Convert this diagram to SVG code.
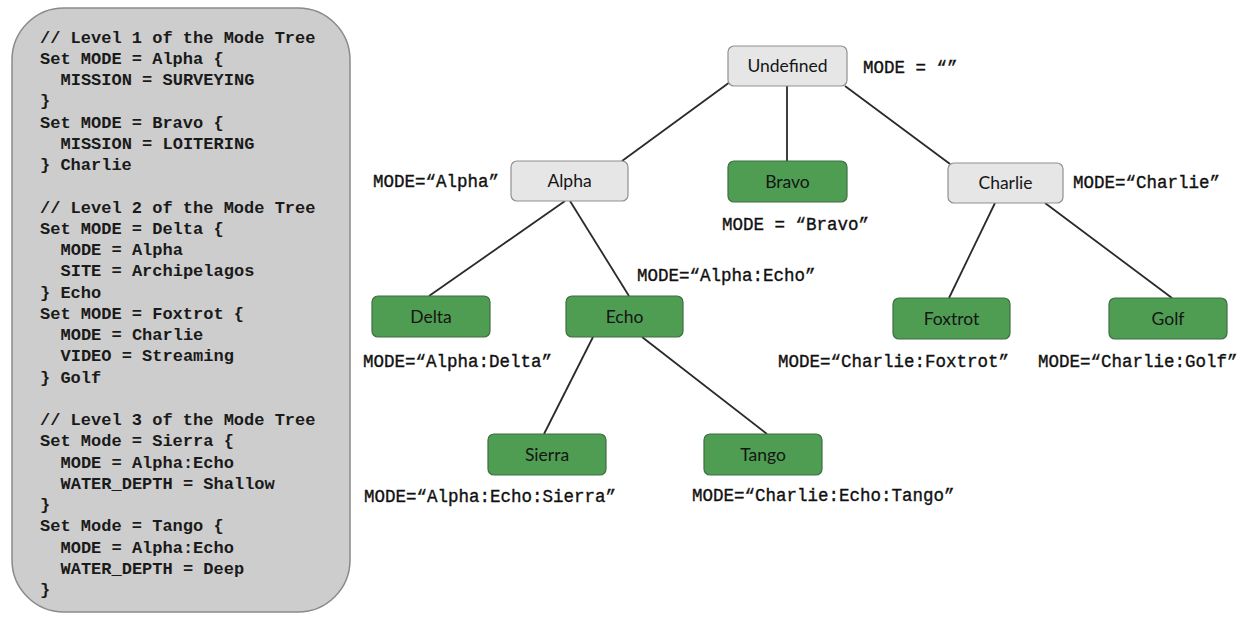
<svg xmlns="http://www.w3.org/2000/svg" width="1247" height="617" viewBox="0 0 1247 617">
<defs>
<style>
.code{font-family:"Liberation Mono","Courier New",monospace;font-size:17px;font-weight:bold;fill:#1a1a1a}
.lbl{font-family:"Liberation Mono","Courier New",monospace;font-size:17.5px;fill:#111;stroke:#111;stroke-width:0.35}
.ntx{font-family:Lato,"Open Sans",sans-serif;font-size:17.5px;fill:#151515;text-anchor:middle}
.gray{fill:#e6e6e6;stroke:#8f8f8f;stroke-width:1.2}
.green{fill:#4e9d52;stroke:#3d6f40;stroke-width:1.2}
.edge{stroke:#2a2a2a;stroke-width:1.8;fill:none}
</style>
</defs>
<rect width="1247" height="617" fill="#ffffff"/>
<g id="code-panel">
<rect x="12" y="8" width="338" height="604" rx="52" ry="52" fill="#cdcdcd" stroke="#8a8a8a" stroke-width="1.5"/>
<text class="code" x="40" y="42.5">// Level 1 of the Mode Tree</text>
<text class="code" x="40" y="63.75">Set MODE = Alpha {</text>
<text class="code" x="60.5" y="85">MISSION = SURVEYING</text>
<text class="code" x="40" y="106.25">}</text>
<text class="code" x="40" y="127.5">Set MODE = Bravo {</text>
<text class="code" x="60.5" y="148.75">MISSION = LOITERING</text>
<text class="code" x="40" y="170">} Charlie</text>
<text class="code" x="40" y="212.5">// Level 2 of the Mode Tree</text>
<text class="code" x="40" y="233.75">Set MODE = Delta {</text>
<text class="code" x="60.5" y="255">MODE = Alpha</text>
<text class="code" x="60.5" y="276.25">SITE = Archipelagos</text>
<text class="code" x="40" y="297.5">} Echo</text>
<text class="code" x="40" y="318.75">Set MODE = Foxtrot {</text>
<text class="code" x="60.5" y="340">MODE = Charlie</text>
<text class="code" x="60.5" y="361.25">VIDEO = Streaming</text>
<text class="code" x="40" y="382.5">} Golf</text>
<text class="code" x="40" y="425">// Level 3 of the Mode Tree</text>
<text class="code" x="40" y="446.25">Set Mode = Sierra {</text>
<text class="code" x="60.5" y="467.5">MODE = Alpha:Echo</text>
<text class="code" x="60.5" y="488.75">WATER_DEPTH = Shallow</text>
<text class="code" x="40" y="510">}</text>
<text class="code" x="40" y="531.25">Set Mode = Tango {</text>
<text class="code" x="60.5" y="552.5">MODE = Alpha:Echo</text>
<text class="code" x="60.5" y="573.75">WATER_DEPTH = Deep</text>
<text class="code" x="40" y="595">}</text>
</g>
<g id="connectors">
<line class="edge" x1="730" y1="82" x2="622" y2="161"/>
<line class="edge" x1="787" y1="86" x2="787" y2="161"/>
<line class="edge" x1="845" y1="86" x2="950" y2="164"/>
<line class="edge" x1="565" y1="201" x2="429" y2="296"/>
<line class="edge" x1="570" y1="201" x2="629" y2="296"/>
<line class="edge" x1="995" y1="203" x2="949" y2="298"/>
<line class="edge" x1="1045" y1="203" x2="1172" y2="298"/>
<line class="edge" x1="593" y1="337" x2="544" y2="434"/>
<line class="edge" x1="642" y1="337" x2="767" y2="434"/>
</g>
<g id="node-undefined"><rect class="gray" x="728" y="46" width="119" height="40" rx="6"/><text class="ntx" x="787.5" y="72">Undefined</text></g>
<g id="node-alpha"><rect class="gray" x="511" y="161" width="117" height="40" rx="6"/><text class="ntx" x="569.5" y="187">Alpha</text></g>
<g id="node-bravo"><rect class="green" x="728" y="161" width="119" height="41" rx="6"/><text class="ntx" x="787.5" y="187.5">Bravo</text></g>
<g id="node-charlie"><rect class="gray" x="948" y="163" width="115" height="40" rx="6"/><text class="ntx" x="1005.5" y="189">Charlie</text></g>
<g id="node-delta"><rect class="green" x="372" y="296" width="118" height="41" rx="6"/><text class="ntx" x="431" y="322.5">Delta</text></g>
<g id="node-echo"><rect class="green" x="566" y="296" width="117" height="41" rx="6"/><text class="ntx" x="624.5" y="322.5">Echo</text></g>
<g id="node-foxtrot"><rect class="green" x="893" y="298" width="117" height="41" rx="6"/><text class="ntx" x="951.5" y="324.5">Foxtrot</text></g>
<g id="node-golf"><rect class="green" x="1109" y="298" width="118" height="41" rx="6"/><text class="ntx" x="1168" y="324.5">Golf</text></g>
<g id="node-sierra"><rect class="green" x="488" y="434" width="118" height="41" rx="6"/><text class="ntx" x="547" y="460.5">Sierra</text></g>
<g id="node-tango"><rect class="green" x="704" y="434" width="118" height="41" rx="6"/><text class="ntx" x="763" y="460.5">Tango</text></g>
<g id="labels">
<text class="lbl" x="863" y="73">MODE = “”</text>
<text class="lbl" x="373" y="187">MODE=“Alpha”</text>
<text class="lbl" x="722" y="230">MODE = “Bravo”</text>
<text class="lbl" x="1073" y="188">MODE=“Charlie”</text>
<text class="lbl" x="637" y="281">MODE=“Alpha:Echo”</text>
<text class="lbl" x="363" y="367">MODE=“Alpha:Delta”</text>
<text class="lbl" x="778" y="367">MODE=“Charlie:Foxtrot”</text>
<text class="lbl" x="1038" y="367">MODE=“Charlie:Golf”</text>
<text class="lbl" x="364" y="502">MODE=“Alpha:Echo:Sierra”</text>
<text class="lbl" x="692" y="501">MODE=“Charlie:Echo:Tango”</text>
</g>
</svg>
